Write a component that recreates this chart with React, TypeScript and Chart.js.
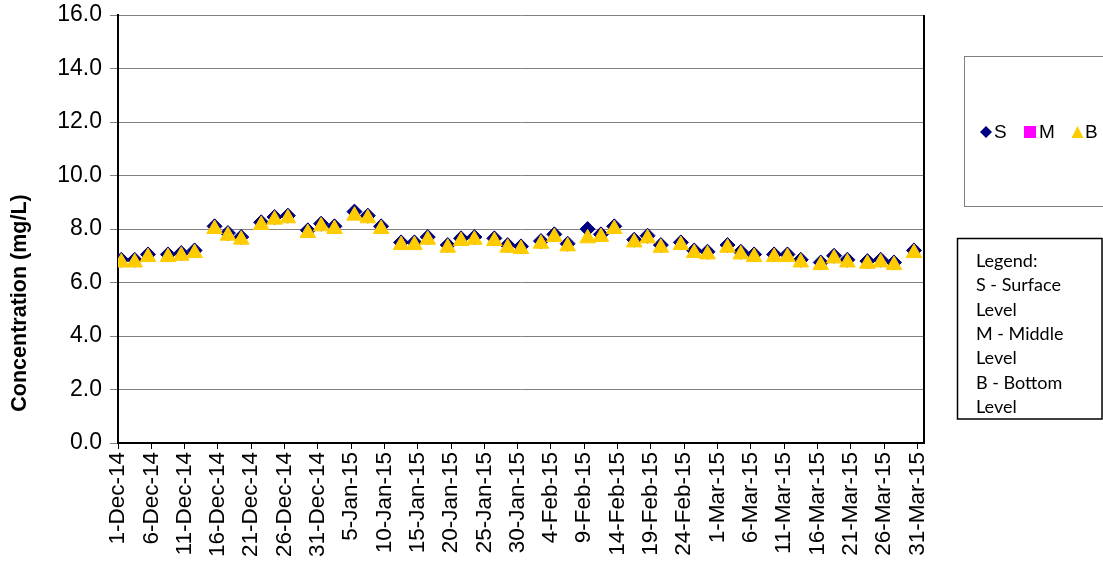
import { useEffect, useRef } from "react";
import { Chart, registerables } from "chart.js";

Chart.register(...registerables);

// x-axis tick labels, one every 5 days starting 1-Dec-14
const tickLabels = [
  "1-Dec-14", "6-Dec-14", "11-Dec-14", "16-Dec-14", "21-Dec-14", "26-Dec-14",
  "31-Dec-14", "5-Jan-15", "10-Jan-15", "15-Jan-15", "20-Jan-15", "25-Jan-15",
  "30-Jan-15", "4-Feb-15", "9-Feb-15", "14-Feb-15", "19-Feb-15", "24-Feb-15",
  "1-Mar-15", "6-Mar-15", "11-Mar-15", "16-Mar-15", "21-Mar-15", "26-Mar-15",
  "31-Mar-15",
];
const tickStepDays = 5;
const axisDays = 121; // 1-Dec-14 .. 31-Mar-15 inclusive

// sampling days (days after 1-Dec-14)
const sampleDays = [
  0, 2, 4, 7, 9, 11, 14, 16, 18, 21, 23, 25, 28, 30, 32, 35, 37, 39, 42, 44, 46,
  49, 51, 53, 56, 58, 60, 63, 65, 67, 70, 72, 74, 77, 79, 81, 84, 86, 88, 91, 93,
  95, 98, 100, 102, 105, 107, 109, 112, 114, 116, 119,
];

const bottomLevel = [
  6.75, 6.75, 6.95, 6.95, 7.0, 7.1, 8.0, 7.75, 7.6, 8.15, 8.35, 8.4, 7.85, 8.1, 8.0,
  8.5, 8.4, 8.0, 7.4, 7.4, 7.6, 7.3, 7.55, 7.6, 7.55, 7.3, 7.25, 7.45, 7.7,
  7.35, 7.65, 7.7, 8.0, 7.5, 7.65, 7.3, 7.4, 7.1, 7.05, 7.3, 7.05, 6.95, 6.95, 6.95,
  6.75, 6.65, 6.9, 6.75, 6.7, 6.75, 6.65, 7.1,
];

const surfaceLevel = [
  6.85, 6.85, 7.05, 7.05, 7.1, 7.2, 8.1, 7.85, 7.7, 8.25, 8.45, 8.5, 7.95, 8.2, 8.1,
  8.65, 8.5, 8.1, 7.5, 7.5, 7.7, 7.4, 7.65, 7.7, 7.65, 7.4, 7.35, 7.55, 7.8,
  7.45, 8.0, 7.8, 8.1, 7.6, 7.75, 7.4, 7.5, 7.2, 7.15, 7.4, 7.15, 7.05, 7.05, 7.05,
  6.85, 6.75, 7.0, 6.85, 6.8, 6.85, 6.75, 7.2,
];

const middleLevel: number[] = [];

const yTickValues = [0, 2, 4, 6, 8, 10, 12, 14, 16];
const yTitle = "Concentration (mg/L)";
const noteLines = [
  "Legend:", "S - Surface", "Level", "M - Middle", "Level", "B - Bottom", "Level",
];

const SURF_COLOR = "#000080";
const MID_COLOR = "#FF00FF";
const BOT_COLOR = "#FFCC00";
const AXIS_FONT = '"Liberation Sans", Arial, sans-serif';

function toPoints(vals: number[]) {
  return vals.map((v, i) => ({ x: sampleDays[i] + 0.5, y: v }));
}

const overlayPlugin = {
  id: "overlay",
  afterDraw(chart: any) {
    const { ctx, chartArea } = chart;
    ctx.save();
    // right plot border
    ctx.strokeStyle = "#000";
    ctx.lineWidth = 2;
    ctx.beginPath();
    ctx.moveTo(chartArea.right, chartArea.top);
    ctx.lineTo(chartArea.right, chartArea.bottom + 1);
    ctx.stroke();

    // y axis title
    ctx.save();
    ctx.translate(20, 303);
    ctx.rotate(-Math.PI / 2);
    ctx.font = 'bold 21.5px "Liberation Sans", Arial, sans-serif';
    ctx.fillStyle = "#000";
    ctx.textAlign = "center";
    ctx.textBaseline = "middle";
    ctx.fillText(yTitle, 0, 0);
    ctx.restore();

    // series legend box
    ctx.strokeStyle = "#808080";
    ctx.lineWidth = 1;
    ctx.strokeRect(964.5, 56.5, 150, 150);
    const ly = 132;
    ctx.font = '19px "Liberation Sans", Arial, sans-serif';
    ctx.textBaseline = "middle";
    ctx.textAlign = "left";
    // diamond
    ctx.fillStyle = SURF_COLOR;
    ctx.beginPath();
    ctx.moveTo(986, ly - 6);
    ctx.lineTo(992, ly);
    ctx.lineTo(986, ly + 6);
    ctx.lineTo(980, ly);
    ctx.closePath();
    ctx.fill();
    ctx.fillStyle = "#000";
    ctx.fillText("S", 994, ly + 1);
    // square
    ctx.fillStyle = MID_COLOR;
    ctx.fillRect(1024, ly - 6, 12, 12);
    ctx.fillStyle = "#000";
    ctx.fillText("M", 1039, ly + 1);
    // triangle
    ctx.fillStyle = BOT_COLOR;
    ctx.beginPath();
    ctx.moveTo(1077.5, ly - 6);
    ctx.lineTo(1083.5, ly + 6);
    ctx.lineTo(1071.5, ly + 6);
    ctx.closePath();
    ctx.fill();
    ctx.fillStyle = "#000";
    ctx.fillText("B", 1085, ly + 1);

    // note box
    ctx.strokeStyle = "#000";
    ctx.lineWidth = 1.5;
    ctx.strokeRect(957.5, 238.5, 144.5, 180.5);
    ctx.font = '18px Lato, "Open Sans", sans-serif';
    ctx.fillStyle = "#000";
    noteLines.forEach((t, i) => {
      ctx.fillText(t, 976, 261 + i * 24.4);
    });
    ctx.restore();
  },
};

export default function App() {
  const canvasRef = useRef<HTMLCanvasElement | null>(null);

  useEffect(() => {
    if (!canvasRef.current) return;
    const chart = new Chart(canvasRef.current, {
      type: "scatter",
      data: {
        datasets: [
          {
            label: "S",
            data: toPoints(surfaceLevel),
            pointStyle: "rectRot",
            pointRadius: 7.5,
            backgroundColor: SURF_COLOR,
            borderColor: SURF_COLOR,
            borderWidth: 1,
            showLine: false,
            order: 2,
          },
          {
            label: "M",
            data: toPoints(middleLevel),
            pointStyle: "rect",
            pointRadius: 7,
            backgroundColor: MID_COLOR,
            borderColor: MID_COLOR,
            showLine: false,
            order: 1,
          },
          {
            label: "B",
            data: toPoints(bottomLevel),
            pointStyle: "triangle",
            pointRadius: 9,
            backgroundColor: BOT_COLOR,
            borderColor: BOT_COLOR,
            borderWidth: 1,
            showLine: false,
            order: 0,
          },
        ],
      },
      options: {
        responsive: false,
        animation: false,
        events: [],
        layout: { padding: { top: 15, right: 179, left: 0, bottom: 0 } },
        plugins: {
          legend: { display: false },
          tooltip: { enabled: false },
          title: { display: false },
        },
        scales: {
          x: {
            type: "linear",
            min: 0,
            max: axisDays,
            afterFit: (s: any) => {
              s.height = 121;
              s.paddingLeft = 0;
              s.paddingRight = 0;
            },
            afterBuildTicks: (s: any) => {
              s.ticks = tickLabels.map((_, i) => ({ value: i * tickStepDays }));
            },
            ticks: {
              autoSkip: false,
              minRotation: 90,
              maxRotation: 90,
              padding: 3,
              color: "#000",
              font: { family: AXIS_FONT, size: 22.5 },
              callback: (_v: any, i: number) => tickLabels[i],
            },
            grid: {
              drawOnChartArea: false,
              drawTicks: true,
              tickLength: 6,
              color: "#000",
              lineWidth: 1,
            },
            border: { color: "#000", width: 2 },
          },
          y: {
            min: 0,
            max: 16,
            afterFit: (s: any) => {
              s.width = 118;
              s.paddingTop = 0;
              s.paddingBottom = 0;
            },
            afterBuildTicks: (s: any) => {
              s.ticks = yTickValues.map((v) => ({ value: v }));
            },
            ticks: {
              padding: 8,
              color: "#000",
              font: { family: AXIS_FONT, size: 23 },
              callback: (v: any) => Number(v).toFixed(1),
            },
            grid: {
              color: "#808080",
              lineWidth: 1,
              tickLength: 8,
            },
            border: { color: "#000", width: 2 },
          },
        },
      },
      plugins: [overlayPlugin],
    });
    return () => chart.destroy();
  }, []);

  return (
    <div style={{ position: "fixed", left: 0, top: 0, width: 1103, height: 564, background: "#fff" }}>
      <canvas ref={canvasRef} width={1103} height={564} style={{ display: "block" }} />
    </div>
  );
}
